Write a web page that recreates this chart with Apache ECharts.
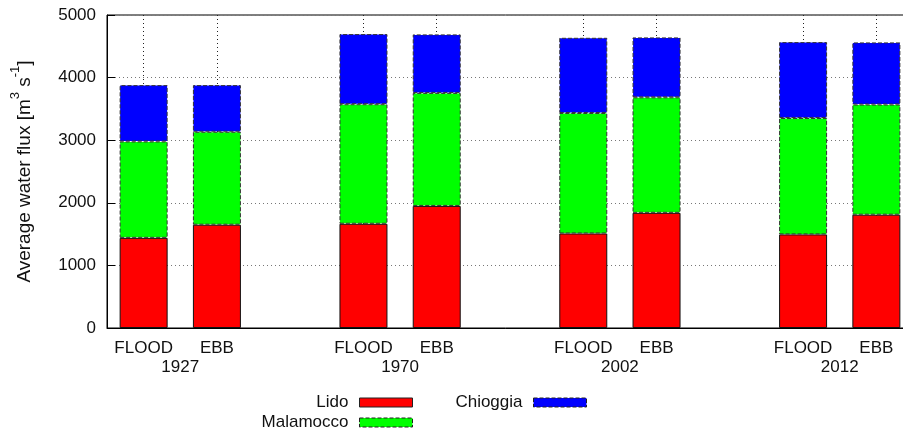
<!DOCTYPE html>
<html>
<head>
<meta charset="utf-8">
<script src="https://cdn.jsdelivr.net/npm/echarts@6/dist/echarts.min.js"></script>
<style>
  html, body { margin: 0; padding: 0; background: #fff; }
  #main { width: 903px; height: 431px; }
</style>
</head>
<body>
<div id="main"></div>
<script>
// bar slots: two per period, with an empty slot between periods
var categories = ["FLOOD", "EBB", "", "FLOOD", "EBB", "", "FLOOD", "EBB", "", "FLOOD", "EBB"];
// second label row (year under each pair), 23 points on a non-gapped axis
var years = ["", "", "1927", "", "", "", "", "", "1970", "", "", "", "", "", "2002", "", "", "", "", "", "2012", "", ""];
var yTicks = [0, 1000, 2000, 3000, 4000, 5000];

var lido = [1440, 1650, "-", 1665, 1950, "-", 1510, 1840, "-", 1495, 1810];
var malamocco = [1540, 1485, "-", 1910, 1805, "-", 1925, 1845, "-", 1860, 1760];
var chioggia = [900, 745, "-", 1120, 935, "-", 1201, 957, "-", 1212, 992];

var font = "'Liberation Sans', Arial, sans-serif";
var txt = "#111";

var myChart = echarts.init(document.getElementById("main"));

function legendFor(name, right, top, color, dashed) {
  return {
    data: [{
      name: name,
      itemStyle: {
        color: color,
        borderColor: "#222",
        borderWidth: 1,
        borderType: dashed ? "dashed" : "solid"
      }
    }],
    right: right,
    top: top,
    padding: 0,
    align: "right",
    icon: "rect",
    itemWidth: 53,
    itemHeight: 9,
    selectedMode: false,
    textStyle: { fontFamily: font, fontSize: 17, color: txt, padding: [0, 6, 0, 0] }
  };
}

myChart.setOption({
  animation: false,
  grid: {
    left: 107,
    top: 15,
    width: 806,
    bottom: 103,
    containLabel: false,
    outerBoundsMode: "none",
    show: true,
    borderColor: "#000",
    borderWidth: 1
  },
  legend: [
    legendFor("Lido", 490, 394, "#ff0000", false),
    legendFor("Malamocco", 490, 414, "#00ff00", true),
    legendFor("Chioggia", 316, 394, "#0000ff", true)
  ],
  xAxis: [
    {
      type: "category",
      data: categories,
      axisLine: { lineStyle: { color: "#000", width: 1 } },
      axisTick: { show: false },
      axisLabel: { interval: 0, margin: 12, fontFamily: font, fontSize: 17, color: txt },
      splitLine: { show: false }
    },
    {
      //年份行，同时负责竖向网格线
      type: "category",
      position: "bottom",
      boundaryGap: false,
      data: years,
      axisLine: { show: false },
      axisTick: { show: false },
      axisLabel: { interval: 0, margin: 31, fontFamily: font, fontSize: 17, color: txt },
      splitLine: {
        show: true,
        interval: function(index) {
          return index % 2 === 1 && index % 6 !== 5;
        },
        lineStyle: { color: "#222", type: [1, 3], width: 1 }
      }
    }
  ],
  yAxis: {
    type: "value",
    min: yTicks[0],
    max: yTicks[yTicks.length - 1],
    interval: 1000,
    name: "{a|Average water flux [m}{s|3}{a| s}{s|-1}{a|]}",
    nameLocation: "middle",
    nameGap: 73,
    nameTextStyle: {
      rich: {
        a: { fontFamily: font, fontSize: 19, color: txt, lineHeight: 25, verticalAlign: "bottom" },
        s: { fontFamily: font, fontSize: 13, color: txt, lineHeight: 25, verticalAlign: "top" }
      }
    },
    axisLine: { show: true, lineStyle: { color: "#000" } },
    axisTick: { show: true, inside: true, length: 8, lineStyle: { color: "#000" } },
    axisLabel: {
      margin: 11,
      fontFamily: font,
      fontSize: 17,
      color: txt,
      formatter: function(v) {
        return String(v);
      }
    },
    splitLine: { show: true, lineStyle: { color: "#777", type: [1, 3], width: 1 } }
  },
  series: [
    {
      name: "Lido",
      type: "bar",
      stack: "flux",
      barWidth: 48,
      data: lido,
      itemStyle: { color: "#ff0000", borderColor: "#111", borderWidth: 1, borderType: "solid" }
    },
    {
      name: "Malamocco",
      type: "bar",
      stack: "flux",
      barWidth: 48,
      data: malamocco,
      itemStyle: { color: "#00ff00", borderColor: "#333", borderWidth: 1, borderType: "dashed" }
    },
    {
      name: "Chioggia",
      type: "bar",
      stack: "flux",
      barWidth: 48,
      data: chioggia,
      itemStyle: { color: "#0000ff", borderColor: "#333", borderWidth: 1, borderType: "dashed" }
    }
  ]
});
</script>
</body>
</html>
